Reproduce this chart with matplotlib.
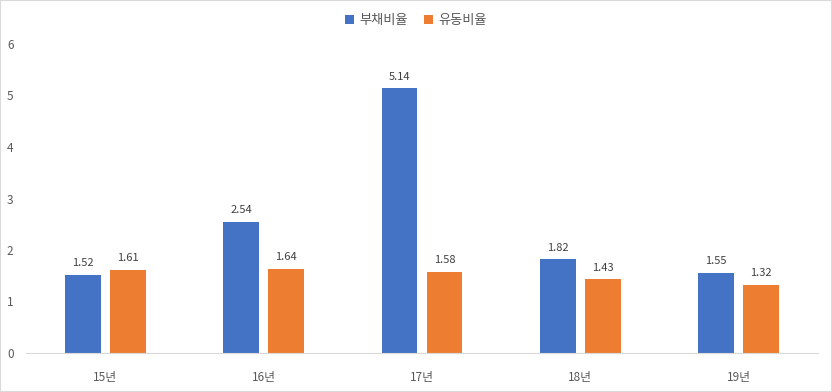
import matplotlib
matplotlib.use("Agg")
import matplotlib.pyplot as plt
import numpy as np
from matplotlib.patches import Rectangle

plt.rcParams['font.family'] = ['Noto Sans CJK KR', 'DejaVu Sans']

categories = ['15년', '16년', '17년', '18년', '19년']
debt_ratio = [1.52, 2.54, 5.14, 1.82, 1.55]
current_ratio = [1.61, 1.64, 1.58, 1.43, 1.32]
series_names = ['부채비율', '유동비율']
colors = ['#4472C4', '#ED7D31']

fig = plt.figure(figsize=(8.32, 3.92), dpi=100)
ax = fig.add_axes([26/832, 39/392, (818-26)/832, (353-44)/392])

x = np.arange(len(categories))
w = 0.227
off = 0.142
b1 = ax.bar(x - off, debt_ratio, w, color=colors[0], label=series_names[0])
b2 = ax.bar(x + off, current_ratio, w, color=colors[1], label=series_names[1])

for bars, vals in ((b1, debt_ratio), (b2, current_ratio)):
    for r, v in zip(bars, vals):
        ax.text(r.get_x() + r.get_width()/2, v + 0.13, f'{v:.2f}', ha='center', va='bottom',
                fontsize=8, color='#404040')

ax.set_xlim(-0.5, len(categories) - 0.5)
ax.set_ylim(0, 6)
ax.set_yticks(range(0, 7))
ax.set_xticks(x)
ax.set_xticklabels(categories)
ax.tick_params(axis='both', length=0, labelsize=8.5, colors='#595959')
ax.tick_params(axis='x', pad=13)
ax.tick_params(axis='y', pad=9)
for s in ['top', 'right', 'left']:
    ax.spines[s].set_visible(False)
ax.spines['bottom'].set_color('#d9d9d9')

leg = fig.legend(loc='upper center', bbox_to_anchor=(0.5, 0.995), ncol=2, frameon=False,
                 fontsize=9.5, handlelength=0.7, handleheight=0.7, handletextpad=0.4,
                 columnspacing=1.2)
for t in leg.get_texts():
    t.set_color('#595959')

fig.patches.append(Rectangle((0, 0), 1, 1, transform=fig.transFigure, fill=False,
                             edgecolor='#d9d9d9', linewidth=1.5))

fig.savefig('out.png', dpi=100)
